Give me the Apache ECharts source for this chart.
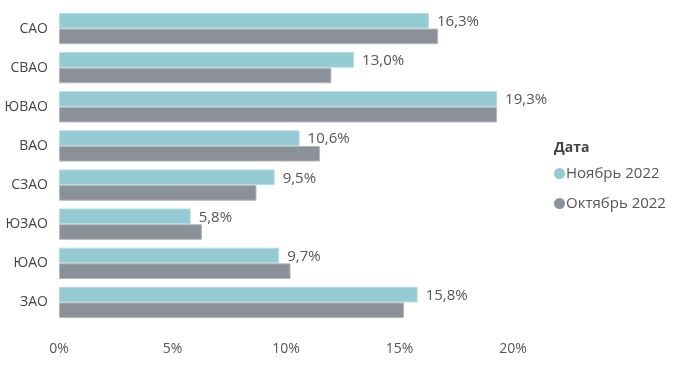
<!DOCTYPE html>
<html><head><meta charset="utf-8">
<script src="https://cdn.jsdelivr.net/npm/echarts@6/dist/echarts.min.js"></script>
<style>html,body{margin:0;padding:0;background:#fff}#c{width:674px;height:365px}</style>
</head><body><div id="c"></div>
<script>
const categories = ['САО','СВАО','ЮВАО','ВАО','СЗАО','ЮЗАО','ЮАО','ЗАО'];
const november = [16.3, 13.0, 19.3, 10.6, 9.5, 5.8, 9.7, 15.8];
const october = [16.7, 12.0, 19.3, 11.5, 8.7, 6.3, 10.2, 15.2];
const seriesNames = ['Ноябрь 2022', 'Октябрь 2022'];
const legendTitle = 'Дата';
const xTicks = [0, 5, 10, 15, 20];

const FONT = '"Open Sans", "Noto Sans", sans-serif';
const chart = echarts.init(document.getElementById('c'));
chart.setOption({
  animation: false,
  textStyle: {fontFamily: FONT},
  title: {text: legendTitle, left: 549, top: 136, textStyle: {fontFamily: FONT, fontSize: 14, fontWeight: 'bold', color: '#444'}},
  legend: {
    orient: 'vertical', left: 549, top: 161, icon: 'circle', itemWidth: 11, itemHeight: 11, itemGap: 15,
    itemStyle: {borderWidth: 0},
    textStyle: {fontFamily: FONT, fontSize: 15, color: '#555', padding: [0,0,0,-4]},
    data: seriesNames
  },
  grid: {left: 59, right: 161, top: 9, bottom: 43},
  xAxis: {
    type: 'value', min: xTicks[0], max: xTicks[xTicks.length-1], interval: 5,
    axisLine: {show: false}, axisTick: {show: false}, splitLine: {show: false},
    axisLabel: {formatter: '{value}%', fontSize: 14, color: '#555', margin: 20, fontFamily: FONT}
  },
  yAxis: {
    type: 'category', data: categories, inverse: true,
    axisLine: {show: false}, axisTick: {show: false},
    axisLabel: {fontSize: 14, color: '#444', margin: 11, fontFamily: FONT}
  },
  series: [
    {name: seriesNames[0], type: 'bar', data: november, barCategoryGap: '20%', barGap: '0%',
     itemStyle: {color: '#94CAD2', borderColor: '#B8DCE2', borderWidth: 1},
     label: {show: true, position: 'right', distance: 8, fontSize: 15, color: '#555', fontFamily: FONT, offset: [0, 1],
       formatter: p => p.value.toFixed(1).replace('.', ',') + '%'}},
    {name: seriesNames[1], type: 'bar', data: october, barCategoryGap: '20%', barGap: '0%',
     itemStyle: {color: '#8B9198', borderColor: '#B5B9BE', borderWidth: 1}}
  ]
});
</script></body></html>
